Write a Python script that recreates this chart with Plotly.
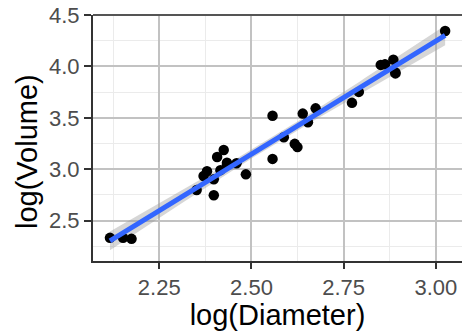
import numpy as np
import plotly.graph_objects as go

# log(Diameter) and log(Volume) for the 31 trees
log_diameter = [2.1163, 2.1518, 2.1748, 2.3514, 2.3702, 2.3795, 2.3979, 2.3979,
                2.4069, 2.4159, 2.4248, 2.4336, 2.4336, 2.4596, 2.4849, 2.5572,
                2.5572, 2.5878, 2.6174, 2.6247, 2.6391, 2.6532, 2.6741, 2.7726,
                2.7912, 2.8507, 2.8622, 2.8848, 2.8904, 2.8904, 3.0253]
log_volume = [2.3321, 2.3321, 2.3224, 2.7973, 2.9339, 2.9806, 2.7473, 2.9014,
              3.1179, 2.9907, 3.1864, 3.0445, 3.0634, 3.0587, 2.9497, 3.1001,
              3.5205, 3.3105, 3.2465, 3.2149, 3.5410, 3.4563, 3.5918, 3.6454,
              3.7519, 4.0146, 4.0200, 4.0656, 3.9416, 3.9318, 4.3438]

x_ticks = [2.25, 2.50, 2.75, 3.00]
x_tick_labels = ["2.25", "2.50", "2.75", "3.00"]
y_ticks = [2.5, 3.0, 3.5, 4.0, 4.5]
y_tick_labels = ["2.5", "3.0", "3.5", "4.0", "4.5"]
x_minor = [2.125, 2.375, 2.625, 2.875]
y_minor = [2.25, 2.75, 3.25, 3.75, 4.25]

# linear fit with 95% confidence band (like geom_smooth(method="lm"))
x = np.array(log_diameter)
y = np.array(log_volume)
n = len(x)
b, a = np.polyfit(x, y, 1)
resid = y - (a + b * x)
s = np.sqrt(np.sum(resid ** 2) / (n - 2))
sxx = np.sum((x - x.mean()) ** 2)
xs = np.linspace(x.min(), x.max(), 80)
fit = a + b * xs
se = s * np.sqrt(1 / n + (xs - x.mean()) ** 2 / sxx)
t = 2.0452
lo = fit - t * se
hi = fit + t * se

fig = go.Figure()
fig.add_trace(go.Scatter(x=np.concatenate([xs, xs[::-1]]), y=np.concatenate([hi, lo[::-1]]),
                         fill="toself", fillcolor="rgba(153,153,153,0.4)",
                         line=dict(width=0), mode="lines", hoverinfo="skip", showlegend=False))
fig.add_trace(go.Scatter(x=log_diameter, y=log_volume, mode="markers",
                         marker=dict(color="black", size=10.5), showlegend=False))
fig.add_trace(go.Scatter(x=xs, y=fit, mode="lines",
                         line=dict(color="#3366FF", width=5), showlegend=False))

axis_font = dict(family="Liberation Sans, Arial, sans-serif", size=22, color="#4d4d4d")
title_font = dict(family="Liberation Sans, Arial, sans-serif", size=29, color="black")

fig.update_layout(
    width=462, height=331,
    margin=dict(l=93, r=0, t=15, b=70),
    plot_bgcolor="white", paper_bgcolor="white",
    xaxis=dict(range=[2.0703, 3.071], tickvals=x_ticks, ticktext=x_tick_labels,
               showgrid=True, gridcolor="#c2c2c2", gridwidth=2,
               minor=dict(tickvals=x_minor, showgrid=True, gridcolor="#ebebeb", gridwidth=1),
               showline=True, linecolor="#333333", linewidth=2,
               ticks="outside", ticklen=6, tickwidth=2, tickcolor="#333333",
               tickfont=axis_font, zeroline=False,
               title=dict(text="log(Diameter)", font=title_font, standoff=4)),
    yaxis=dict(range=[2.107, 4.5], tickvals=y_ticks, ticktext=y_tick_labels,
               showgrid=True, gridcolor="#c2c2c2", gridwidth=2,
               minor=dict(tickvals=y_minor, showgrid=True, gridcolor="#ebebeb", gridwidth=1),
               showline=True, linecolor="#333333", linewidth=2,
               ticks="outside", ticklen=7, tickwidth=2, tickcolor="#333333",
               tickfont=axis_font, zeroline=False),
    shapes=[dict(type="line", xref="paper", yref="paper", x0=0, x1=1, y0=1, y1=1,
                 line=dict(color="#555555", width=2))],
    annotations=[dict(text="log(Volume)", textangle=-90, font=title_font,
                      xref="paper", yref="paper", x=0, y=0.443, xshift=-66,
                      xanchor="center", yanchor="middle", showarrow=False)],
)

fig.write_html("out.html")
